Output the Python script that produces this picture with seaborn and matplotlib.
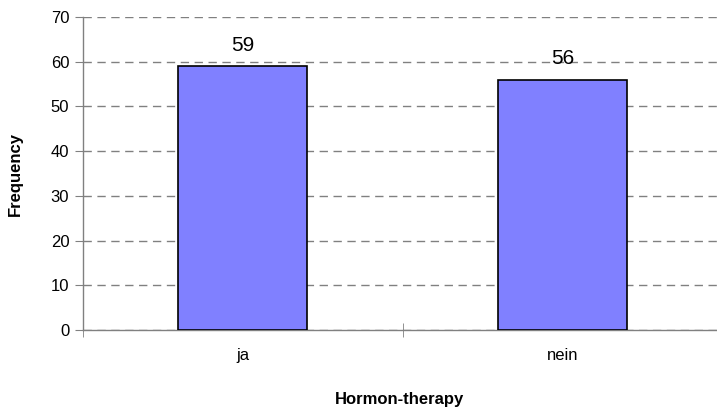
import matplotlib
matplotlib.use("Agg")
import matplotlib.pyplot as plt
import seaborn as sns
import pandas as pd

# data
categories = ["ja", "nein"]
frequency = [59, 56]

df = pd.DataFrame({"therapy": categories, "freq": frequency})

sns.set_style("white")
plt.rcParams["font.family"] = ["Liberation Sans", "DejaVu Sans"]
plt.rcParams["text.color"] = "black"
plt.rcParams["axes.labelcolor"] = "black"
plt.rcParams["xtick.labelcolor"] = "black"
plt.rcParams["ytick.labelcolor"] = "black"

fig = plt.figure(figsize=(7.17, 4.19), dpi=100)
# axes run slightly past the right edge like in the original export
ax = fig.add_axes([82.5 / 717, (419 - 330) / 419, 640 / 717, 313 / 419])

sns.barplot(data=df, x="therapy", y="freq", color="#8080FF",
            edgecolor="black", linewidth=1.2, width=0.403, ax=ax,
            saturation=1, zorder=3)

ax.set_xlim(-0.5, 1.5)
ax.set_ylim(0, 70)
ax.set_yticks(range(0, 71, 10))
ax.yaxis.grid(True, linestyle=(0, (6, 4)), color="#808080", linewidth=1)
ax.set_axisbelow(True)

for s in ["top", "right"]:
    ax.spines[s].set_visible(False)
for s in ["left", "bottom"]:
    ax.spines[s].set_color("#808080")
    ax.spines[s].set_linewidth(1)

ax.tick_params(axis="y", length=6, direction="out", color="#808080", labelsize=12, left=True)
ax.tick_params(axis="x", length=0, labelsize=12, pad=13)
# category separator ticks
ax.set_xticks([-0.5, 0.5], minor=True)
ax.tick_params(axis="x", which="minor", length=10, direction="inout", color="#808080", bottom=True)

for i, v in enumerate(frequency):
    ax.text(i, v + 2.5, str(v), ha="center", va="bottom", fontsize=15)

ax.set_xlabel("Hormon-therapy", fontsize=12, fontweight="bold")
ax.set_ylabel("Frequency", fontsize=12, fontweight="bold", labelpad=20)
ax.xaxis.set_label_coords((400 - 82.5) / 640, -(392 - 330) / 313)

fig.savefig("out.png", dpi=100)
